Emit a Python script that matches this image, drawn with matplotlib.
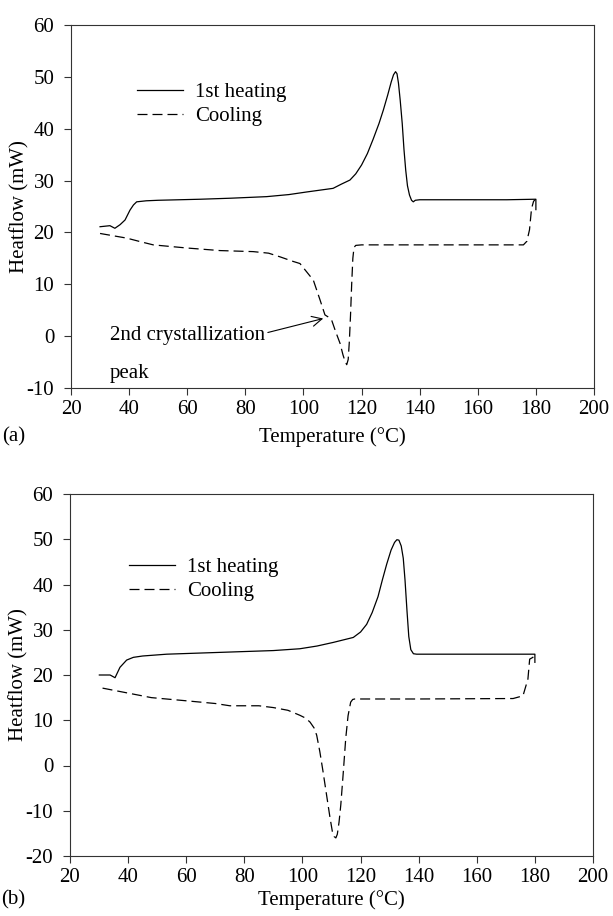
import matplotlib
matplotlib.use('Agg')
import matplotlib.pyplot as plt

plt.rcParams['font.family'] = ['Liberation Serif', 'DejaVu Serif']
plt.rcParams['axes.unicode_minus'] = False

# (a) 1st heating / cooling
heat_a_x = [30, 33.4, 35.1, 36.9, 38.6, 40.3, 41.5, 42.6, 45.9, 50, 64.4, 75, 87.3, 95, 101.1,
            105, 110.2, 113, 116, 118, 120, 122, 124, 126, 127.5, 129, 130.2, 131, 131.7,
            132.2, 132.7, 133.3, 134, 134.6, 135.2, 135.8, 136.5, 137.2, 137.8, 138.5, 140,
            150, 170, 179.7, 180, 180]
heat_a_y = [21.1, 21.3, 20.8, 21.5, 22.4, 24.3, 25.3, 25.9, 26.1, 26.2, 26.4, 26.6, 26.9, 27.3, 27.8,
            28.1, 28.5, 29.3, 30.1, 31.3, 33.0, 35.2, 38.0, 41.0, 43.6, 46.5, 49.0, 50.4, 51.0,
            50.6, 48.8, 45.5, 41.0, 36.0, 32.0, 29.0, 27.2, 26.2, 25.9, 26.2, 26.3,
            26.3, 26.3, 26.4, 26.4, 24.4]
cool_a_x = [30, 39.2, 44, 48.3, 59.8, 71.3, 82.7, 88, 91.9, 96.5, 98.8, 101.1, 103.4, 105.7, 107.4,
            108.5, 109.7, 111, 112.6, 113.6, 114.4, 114.9, 115.4, 115.8, 116.2, 116.6, 117.0,
            117.4, 118, 120, 150, 170, 175.7, 176.9, 177.8, 178.5, 179.2, 179.7]
cool_a_y = [19.8, 18.9, 18.2, 17.6, 17.0, 16.5, 16.3, 16.0, 15.3, 14.4, 14.0, 12.4, 10.8, 7.0, 4.1,
            3.7, 3.1, 1.0, -1.4, -3.6, -5.0, -5.5, -4.5, -1.0, 4.0, 10.0, 15.0,
            17.1, 17.5, 17.6, 17.6, 17.6, 17.6, 18.3, 20.5, 24.6, 26.0, 26.3]

# (b) 1st heating / cooling
heat_b_x = [30.1, 33.8, 35.5, 37.2, 39.5, 41.8, 45, 53.3, 76.2, 90, 99.1, 105, 110.6, 117.5, 120,
            122.1, 124, 126, 127.5, 129, 130.5, 131.7, 132.5, 133.2, 134, 134.7, 135.3, 136,
            136.6, 137.3, 138.2, 139.3, 150, 170, 180, 180]
heat_b_y = [20.0, 20.0, 19.4, 21.7, 23.3, 23.9, 24.2, 24.6, 25.1, 25.4, 25.8, 26.4, 27.2, 28.3, 29.5,
            31.2, 33.8, 37.3, 41.0, 44.5, 47.6, 49.3, 49.9, 49.8, 48.5, 45.8, 41.0, 34.0,
            28.5, 25.6, 24.7, 24.6, 24.6, 24.6, 24.6, 22.8]
cool_b_x = [31.2, 40, 48, 60, 70, 75, 85, 90, 95, 99.1, 101, 102.6, 104, 104.9, 106, 107.1, 108.3,
            109.5, 110.3, 110.9, 111.5, 112, 112.6, 113.2, 114, 114.9, 115.7, 116.6, 117.3, 118,
            140, 172.5, 175.9, 177.6, 178.2, 179.3, 180]
cool_b_y = [17.1, 16.0, 15.0, 14.3, 13.7, 13.2, 13.2, 12.8, 12.2, 11.1, 10.5, 9.6, 8.3, 6.7, 3.0, -1.4, -6.5,
            -11.6, -14.6, -15.7, -16.0, -15.2, -12.5, -8.7, -2.0, 6.0, 11.0, 14.0, 14.6, 14.7,
            14.7, 14.8, 15.4, 19.1, 23.5, 23.9, 24.6]

fig = plt.figure(figsize=(6.13, 9.16), dpi=100)
ax1 = fig.add_axes([71/613, 1 - 388/916, 523/613, 363/916])
ax2 = fig.add_axes([70/613, 1 - 856/916, 523/613, 362/916])

dash = (0, (8, 4))
fs = 15

def style(ax, ylim, yticks, tag, lx, ly):
    ax.set_xlim(20, 200)
    ax.set_ylim(*ylim)
    ax.set_xticks(range(20, 201, 20))
    ax.set_yticks(yticks)
    ax.tick_params(direction='out', length=5, width=0.8, labelsize=fs, color='#333333')
    ax.tick_params(axis='y', pad=7)
    ax.tick_params(axis='x', pad=4)
    for s in ax.spines.values():
        s.set_linewidth(0.8)
        s.set_color('#333333')
    ax.set_xlabel('Temperature (°C)', fontsize=fs, va='center')
    ax.xaxis.set_label_coords(0.5, lx)
    ax.set_ylabel('Heatflow (mW)', fontsize=fs, va='center')
    ax.yaxis.set_label_coords(-0.0975, 0.5)
    ax.text(-0.132, ly, tag, transform=ax.transAxes, fontsize=fs, va='center', ha='left')

ax1.plot(heat_a_x, heat_a_y, color='black', lw=0.9, label='1st heating')
ax1.plot(cool_a_x, cool_a_y, color='black', lw=0.9, ls=dash, label='Cooling')
style(ax1, (-10, 60), range(-10, 61, 10), '(a)', -0.135, -0.135)
ax1.legend(frameon=False, loc='center left', bbox_to_anchor=(0.126, 0.781), fontsize=fs,
           handlelength=2.2, handletextpad=0.6, labelspacing=0.2, borderpad=0, borderaxespad=0)
ax1.annotate('2nd crystallization', xy=(106.8, 3.4), xytext=(33.4, 0.2), fontsize=fs,
             va='center', ha='left',
             arrowprops=dict(arrowstyle='->', color='black', lw=0.8, mutation_scale=18,
                             shrinkA=0, shrinkB=0, relpos=(1, 0.6)))
ax1.text(33.4, -7.3, 'peak', fontsize=fs, va='center', ha='left')

ax2.plot(heat_b_x, heat_b_y, color='black', lw=0.9, label='1st heating')
ax2.plot(cool_b_x, cool_b_y, color='black', lw=0.9, ls=dash, label='Cooling')
style(ax2, (-20, 60), range(-20, 61, 10), '(b)', -0.122, -0.12)
ax2.legend(frameon=False, loc='center left', bbox_to_anchor=(0.113, 0.764), fontsize=fs,
           handlelength=2.2, handletextpad=0.6, labelspacing=0.2, borderpad=0, borderaxespad=0)

fig.savefig('out.png', dpi=100)
